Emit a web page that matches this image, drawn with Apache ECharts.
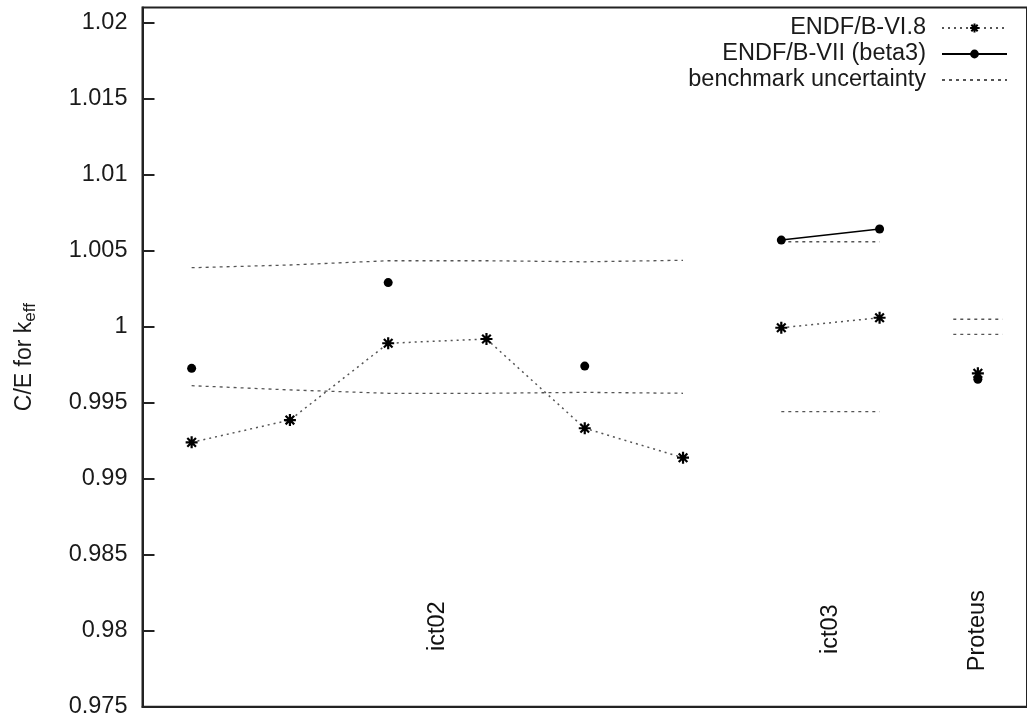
<!DOCTYPE html>
<html>
<head>
<meta charset="utf-8">
<script src="https://cdn.jsdelivr.net/npm/echarts@6/dist/echarts.min.js"></script>
<style>
html,body{margin:0;padding:0;background:#fff;}
#chart{width:1027px;height:719px;}
</style>
</head>
<body>
<div id="chart"></div>
<script>
// ---- data ----
var seriesNames = ['ENDF/B-VI.8', 'ENDF/B-VII (beta3)', 'benchmark uncertainty'];
var yTicks = [0.975, 0.98, 0.985, 0.99, 0.995, 1, 1.005, 1.01, 1.015, 1.02];

var categories = ['ict02', 'ict03', 'Proteus'];
var categoryX = [3.5, 7.5, 9];
var categoryLabelY = [0.9803, 0.9801, 0.9800];

// ENDF/B-VI.8 (x index, C/E); '-' breaks the line between benchmarks
var vi8 = [
  [1, 0.99239], [2, 0.99386], [3, 0.99891], [4, 0.99919], [5, 0.99332], [6, 0.99138],
  [6.5, '-'],
  [7, 0.99993], [8, 1.00059],
  [8.5, '-'],
  [9, 0.99693]
];

// ENDF/B-VII (beta3)
var vii = [
  [1, 0.99726], [2, '-'], [3, 1.0029], [4, '-'], [5, 0.99741], [6, '-'],
  [7, 1.0057], [8, 1.00643],
  [8.5, '-'],
  [9, 0.99654]
];

// benchmark uncertainty bands (upper / lower segments)
var benchUpperIct02 = [[1, 1.00388], [2, 1.00406], [3, 1.00434], [4, 1.00434], [5, 1.00427], [6, 1.00437]];
var benchLowerIct02 = [[1, 0.99612], [2, 0.99584], [3, 0.99562], [4, 0.99562], [5, 0.99568], [6, 0.99562]];
var benchUpperIct03 = [[7, 1.00559], [8, 1.00559]];
var benchLowerIct03 = [[7, 0.99441], [8, 0.99441]];
var benchUpperProteus = [[8.75, 1.00049], [9.25, 1.00049]];
var benchLowerProteus = [[8.75, 0.9995], [9.25, 0.9995]];

// ---- build ----
function joinSegments(segs) {
  var out = [];
  segs.forEach(function (s, i) {
    if (i > 0) out.push([s[0][0], '-']);
    s.forEach(function (p) { out.push(p); });
  });
  return out;
}
var bench = joinSegments([benchUpperIct02, benchLowerIct02, benchUpperIct03, benchLowerIct03, benchUpperProteus, benchLowerProteus]);

var catLabels = categories.map(function (c, i) { return [categoryX[i], categoryLabelY[i], c]; });

var FONT = "'Liberation Sans', Arial, Helvetica, sans-serif";
var FS = 23.5;
var INK = '#1a1a1a';
var STAR = 'path://M-1,0L1,0M0,-1L0,1M-0.72,-0.72L0.72,0.72M-0.72,0.72L0.72,-0.72';

var chart = echarts.init(document.getElementById('chart'), null, {renderer: 'canvas'});
chart.setOption({
  animation: false,
  backgroundColor: '#fff',
  textStyle: {fontFamily: FONT},
  grid: {
    left: 142.5, top: 7.5, right: -15.5, bottom: 12.3,
    show: true, borderColor: '#222', borderWidth: 2, backgroundColor: 'transparent'
  },
  legend: {
    orient: 'vertical', right: 14, top: 10, align: 'right',
    itemWidth: 65, itemHeight: 11, itemGap: 0,
    selectedMode: false,
    textStyle: {fontFamily: FONT, fontSize: FS, color: INK, lineHeight: 26, padding: [0, 11, 0, 0]},
    data: [
      {name: seriesNames[0]},
      {name: seriesNames[1]},
      {name: seriesNames[2], itemStyle: {opacity: 0}}
    ]
  },
  xAxis: {
    type: 'value', min: 0.5, max: 9.5,
    axisLine: {show: true, onZero: false, lineStyle: {color: '#222', width: 2}},
    axisTick: {show: false}, axisLabel: {show: false}, splitLine: {show: false}
  },
  yAxis: {
    type: 'value', min: yTicks[0], max: 1.021, interval: 0.005,
    axisLine: {show: true, lineStyle: {color: '#222', width: 2}},
    axisTick: {show: true, inside: true, length: 12, lineStyle: {color: '#222', width: 2}},
    splitLine: {show: false},
    axisLabel: {
      margin: 15, fontFamily: FONT, fontSize: FS, color: INK, showMaxLabel: false,
      formatter: function (v) {
        for (var i = 0; i < yTicks.length; i++) {
          if (Math.abs(yTicks[i] - v) < 1e-7) return String(yTicks[i]);
        }
        return '';
      }
    },
    name: '{a|C/E for k}{b|eff}',
    nameLocation: 'middle', nameRotate: 90, nameGap: 104,
    nameTextStyle: {
      fontFamily: FONT, color: INK,
      rich: {
        a: {fontFamily: FONT, fontSize: 23, color: INK},
        b: {fontFamily: FONT, fontSize: 17, color: INK, padding: [10, 0, 0, 0]}
      }
    }
  },
  series: [
    {
      name: seriesNames[2], type: 'line', data: bench, symbol: 'none',
      connectNulls: false, z: 1,
      lineStyle: {color: '#555', width: 1.3, type: [3, 4]},
      itemStyle: {color: '#555'}
    },
    {
      name: seriesNames[0], type: 'line', data: vi8, symbol: STAR, symbolSize: 12,
      connectNulls: false, z: 3,
      lineStyle: {color: '#555', width: 1.5, type: [2, 4]},
      itemStyle: {color: 'transparent', borderColor: '#000', borderWidth: 2.2}
    },
    {
      name: seriesNames[1], type: 'line', data: vii, symbol: 'circle', symbolSize: 9,
      connectNulls: false, z: 4,
      lineStyle: {color: '#000', width: 1.5},
      itemStyle: {color: '#000'}
    },
    {
      name: 'labels', type: 'scatter', data: catLabels, symbolSize: 0, silent: true, z: 2,
      itemStyle: {color: '#000'},
      label: {
        show: true, position: 'inside', rotate: 90,
        fontFamily: FONT, fontSize: FS, color: '#111', opacity: 1,
        textBorderWidth: 0, textShadowBlur: 0
      },
      labelLayout: {hideOverlap: false}
    }
  ]
});
chart.setOption({
  series: [{}, {}, {}, {label: {formatter: function (p) { return p.value[2]; }}}]
});
</script>
</body>
</html>
